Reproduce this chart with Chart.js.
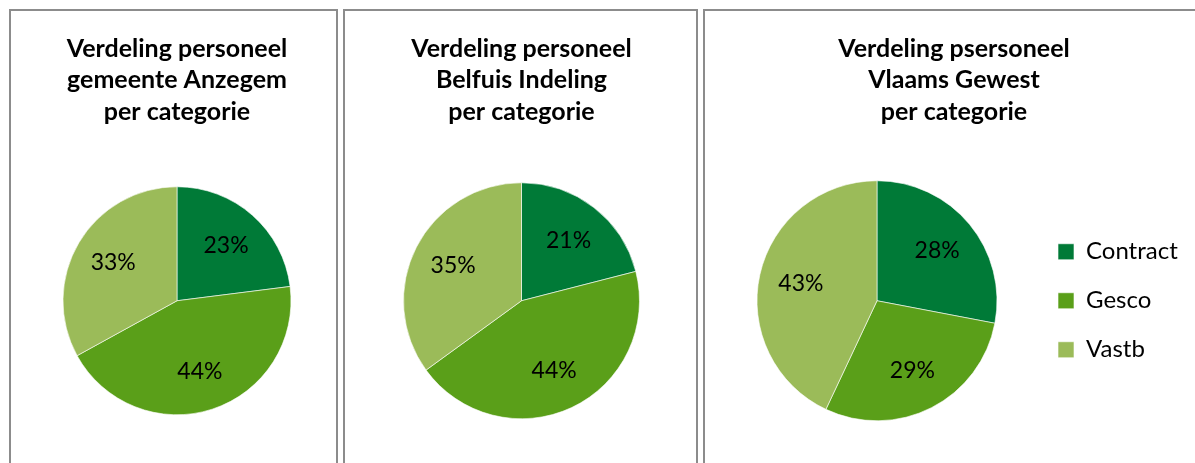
<!DOCTYPE html>
<html>
<head>
<meta charset="utf-8">
<script src="https://cdn.jsdelivr.net/npm/chart.js@4/dist/chart.umd.min.js"></script>
<style>
  body { margin: 0; background: #fff; overflow: hidden; width: 1195px; height: 463px; position: relative; }
  .panel { position: absolute; top: 9px; height: 470px; border: 2px solid #8c8c8c; overflow: hidden; background: #fff; }
  .panel canvas { position: absolute; left: 0; top: 0; }
</style>
</head>
<body>
<div class="panel" style="left:9px;width:325px;"><canvas id="pieAnzegem" width="325" height="463"></canvas></div>
<div class="panel" style="left:343px;width:351px;"><canvas id="pieBelfius" width="351" height="463"></canvas></div>
<div class="panel" style="left:703px;width:520px;"><canvas id="pieVlaams" width="482" height="463"></canvas></div>
<script>
// categorieen
const categories = ["Contract", "Gesco", "Vastb"];
// kleuren per categorie
const categoryColors = ["#007a37", "#5a9f19", "#9bbb59"];
// waarden (%)
const anzegemValues = [23, 44, 33];
const belfiusValues = [21, 44, 35];
const vlaamsValues = [28, 29, 43];
// titels
const anzegemTitle = ["Verdeling personeel", "gemeente Anzegem", "per categorie"];
const belfiusTitle = ["Verdeling personeel", "Belfuis Indeling", "per categorie"];
const vlaamsTitle = ["Verdeling psersoneel", "Vlaams Gewest", "per categorie"];

const fontName = "Lato, 'Open Sans', sans-serif";

/**
 * percentages in de schijven
 */
const pctLabels = {
  id: "pctLabels",
  afterDatasetsDraw(chart) {
    const ctx = chart.ctx;
    const meta = chart.getDatasetMeta(0);
    const data = chart.data.datasets[0].data;
    ctx.save();
    ctx.font = "23px " + fontName;
    ctx.fillStyle = "#000";
    ctx.textAlign = "center";
    ctx.textBaseline = "middle";
    meta.data.forEach((arc, i) => {
      const p = arc.getProps(["x", "y", "startAngle", "endAngle", "outerRadius"], true);
      const mid = (p.startAngle + p.endAngle) / 2;
      const r = p.outerRadius * 0.65;
      ctx.fillText(data[i] + "%", p.x + Math.cos(mid) * r, p.y + Math.sin(mid) * r);
    });
    ctx.restore();
  }
};

/**
 * taartdiagram
 */
function drawPieChart(eleId, values, title, radius, pad, withLegend) {
  const ctx = document.getElementById(eleId).getContext("2d");
  return new Chart(ctx, {
    type: "pie",
    data: {
      labels: categories,
      datasets: [{
        data: values,
        backgroundColor: categoryColors,
        borderColor: "rgba(255,255,255,0.6)",
        borderWidth: 1,
        radius: radius
      }]
    },
    options: {
      responsive: false,
      animation: false,
      devicePixelRatio: 1,
      layout: { padding: pad },
      plugins: {
        tooltip: { enabled: false },
        title: {
          display: true,
          text: title,
          color: "#000",
          padding: { top: 22, bottom: 0 },
          font: { family: fontName, size: 25, weight: "bold", lineHeight: "31.5px" }
        },
        legend: {
          display: withLegend,
          position: "right",
          fullSize: false,
          maxWidth: 154,
          labels: {
            color: "#000",
            boxWidth: 16,
            boxHeight: 16,
            padding: 25,
            font: { family: fontName, size: 24 }
          }
        }
      }
    },
    plugins: [pctLabels]
  });
}

drawPieChart("pieAnzegem", anzegemValues, anzegemTitle, 114, { left: 7, right: 0, top: 0, bottom: 0 }, false);
drawPieChart("pieBelfius", belfiusValues, belfiusTitle, 118, { left: 2, right: 0, top: 0, bottom: 0 }, false);
drawPieChart("pieVlaams", vlaamsValues, vlaamsTitle, 120, { left: 16, right: 0, top: 0, bottom: 0 }, true);
</script>
</body>
</html>
